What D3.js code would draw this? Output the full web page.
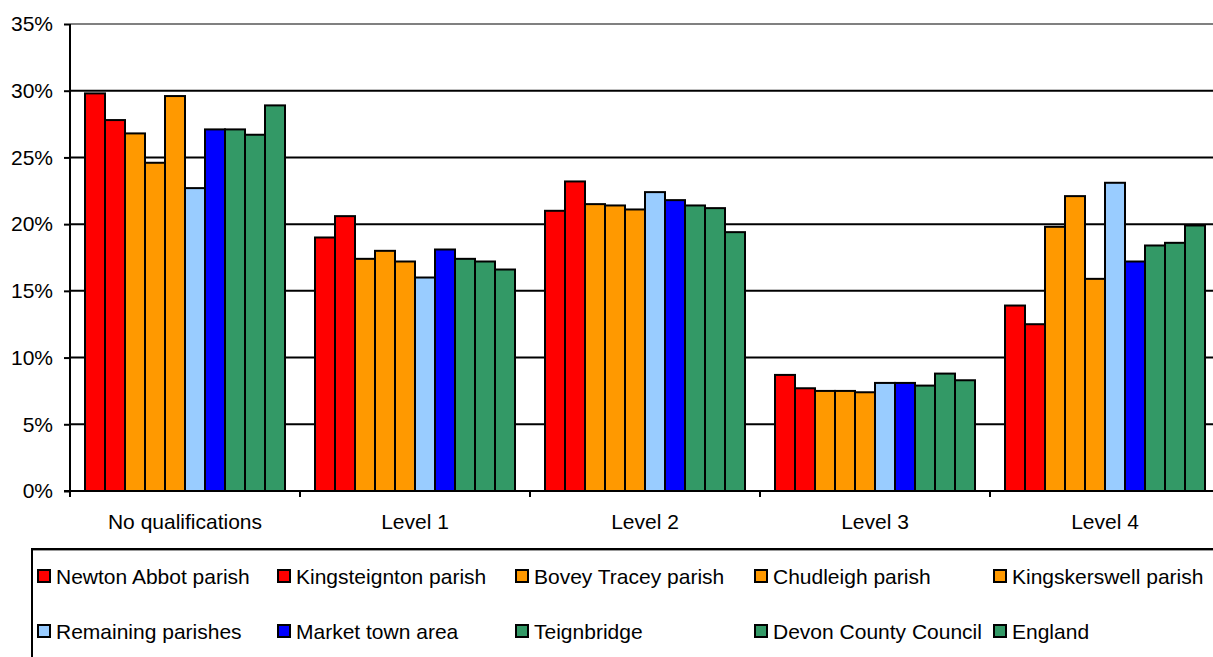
<!DOCTYPE html>
<html>
<head>
<meta charset="utf-8">
<script src="https://cdn.jsdelivr.net/npm/d3@7"></script>
<style>
  body { margin: 0; background: #fff; }
  svg { display: block; font-family: Arial, "Liberation Sans", sans-serif; }
</style>
</head>
<body>
<svg></svg>
<script>
var categories = ["No qualifications", "Level 1", "Level 2", "Level 3", "Level 4"];
var seriesNames = ["Newton Abbot parish", "Kingsteignton parish", "Bovey Tracey parish",
  "Chudleigh parish", "Kingskerswell parish", "Remaining parishes", "Market town area",
  "Teignbridge", "Devon County Council", "England"];
var seriesColors = ["#FF0000", "#FF0000", "#FF9900", "#FF9900", "#FF9900",
  "#99CCFF", "#0000FF", "#339966", "#339966", "#339966"];
// one row per series, one value per category (%)
var newtonAbbot   = [29.8, 19.0, 21.0, 8.7, 13.9];
var kingsteignton = [27.8, 20.6, 23.2, 7.7, 12.5];
var boveyTracey   = [26.8, 17.4, 21.5, 7.5, 19.8];
var chudleigh     = [24.6, 18.0, 21.4, 7.5, 22.1];
var kingskerswell = [29.6, 17.2, 21.1, 7.4, 15.9];
var remaining     = [22.7, 16.0, 22.4, 8.1, 23.1];
var marketTown    = [27.1, 18.1, 21.8, 8.1, 17.2];
var teignbridge   = [27.1, 17.4, 21.4, 7.9, 18.4];
var devon         = [26.7, 17.2, 21.2, 8.8, 18.6];
var england       = [28.9, 16.6, 19.4, 8.3, 19.9];
var yTicks = [0, 5, 10, 15, 20, 25, 30, 35];

var seriesValues = [newtonAbbot, kingsteignton, boveyTracey, chudleigh, kingskerswell,
  remaining, marketTown, teignbridge, devon, england];

var svg = d3.select("svg").attr("width", 1213).attr("height", 657);

var left = 70, plotTop = 24, bottom = 491, plotW = 1150;
var fontSize = 21;

var x0 = d3.scaleBand().domain(categories).range([left, left + plotW]).paddingInner(0).paddingOuter(0);
var x1 = d3.scaleBand().domain(d3.range(seriesNames.length)).range([15, x0.bandwidth() - 15]);
var y = d3.scaleLinear().domain([0, 35]).range([bottom, plotTop]);

// gridlines
svg.append("g").selectAll("line")
  .data(yTicks.filter(function(t){ return t > 0; }))
  .enter().append("line")
  .attr("x1", left).attr("x2", 1213)
  .attr("y1", function(t){ return y(t); })
  .attr("y2", function(t){ return y(t); })
  .attr("stroke", function(t){ return t === 35 ? "#808080" : "#000"; })
  .attr("stroke-width", 2);

// bars
var groups = svg.append("g").selectAll("g")
  .data(categories).enter().append("g")
  .attr("transform", function(c){ return "translate(" + x0(c) + ",0)"; });

groups.selectAll("rect")
  .data(function(c, ci){
    return seriesValues.map(function(s, si){ return {si: si, v: s[ci]}; });
  })
  .enter().append("rect")
  .attr("x", function(d){ return x1(d.si); })
  .attr("width", x1.bandwidth())
  .attr("y", function(d){ return y(d.v); })
  .attr("height", function(d){ return bottom - y(d.v); })
  .attr("fill", function(d){ return seriesColors[d.si]; })
  .attr("stroke", "#000")
  .attr("stroke-width", 2);

// y axis
var yAxis = svg.append("g")
  .attr("transform", "translate(" + left + ",0)")
  .call(d3.axisLeft(y).tickValues(yTicks).tickSize(6).tickPadding(11)
    .tickFormat(function(t){ return t + "%"; }));
yAxis.select(".domain").attr("stroke", "#000").attr("stroke-width", 2).attr("d", "M0," + plotTop + "V" + bottom);
yAxis.selectAll(".tick line").attr("stroke", "#000").attr("stroke-width", 2);
yAxis.selectAll("text").attr("font-size", fontSize).attr("fill", "#000")
  .attr("font-family", "Arial, 'Liberation Sans', sans-serif");

// x axis
svg.append("line").attr("x1", left - 6).attr("x2", 1213)
  .attr("y1", bottom).attr("y2", bottom)
  .attr("stroke", "#000").attr("stroke-width", 2);
svg.append("g").selectAll("line")
  .data(categories.concat(["end"]))
  .enter().append("line")
  .attr("x1", function(c, i){ return left + i * x0.bandwidth(); })
  .attr("x2", function(c, i){ return left + i * x0.bandwidth(); })
  .attr("y1", bottom).attr("y2", bottom + 6)
  .attr("stroke", "#000").attr("stroke-width", 2);
svg.append("g").selectAll("text")
  .data(categories).enter().append("text")
  .attr("x", function(c){ return x0(c) + x0.bandwidth() / 2; })
  .attr("y", 529)
  .attr("text-anchor", "middle")
  .attr("font-size", fontSize)
  .text(function(c){ return c; });

// legend
var legend = svg.append("g");
legend.append("line").attr("x1", 31).attr("x2", 1213).attr("y1", 549).attr("y2", 549)
  .attr("stroke", "#000").attr("stroke-width", 2);
legend.append("line").attr("x1", 33).attr("x2", 1213).attr("y1", 550.5).attr("y2", 550.5)
  .attr("stroke", "#999").attr("stroke-width", 1);
legend.append("line").attr("x1", 32).attr("x2", 32).attr("y1", 548).attr("y2", 657)
  .attr("stroke", "#000").attr("stroke-width", 2);

var colX = [37, 277, 515, 754, 993];
var rowY = [576, 631];
var items = legend.selectAll("g.item")
  .data(seriesNames).enter().append("g")
  .attr("class", "item")
  .attr("transform", function(n, i){
    return "translate(" + colX[i % 5] + "," + rowY[Math.floor(i / 5)] + ")";
  });
items.append("rect")
  .attr("x", 1).attr("y", -6).attr("width", 12).attr("height", 12)
  .attr("fill", function(n, i){ return seriesColors[i]; })
  .attr("stroke", "#000").attr("stroke-width", 2);
items.append("text")
  .attr("x", 19).attr("y", 7.5)
  .attr("font-size", fontSize)
  .text(function(n){ return n; });
</script>
</body>
</html>
